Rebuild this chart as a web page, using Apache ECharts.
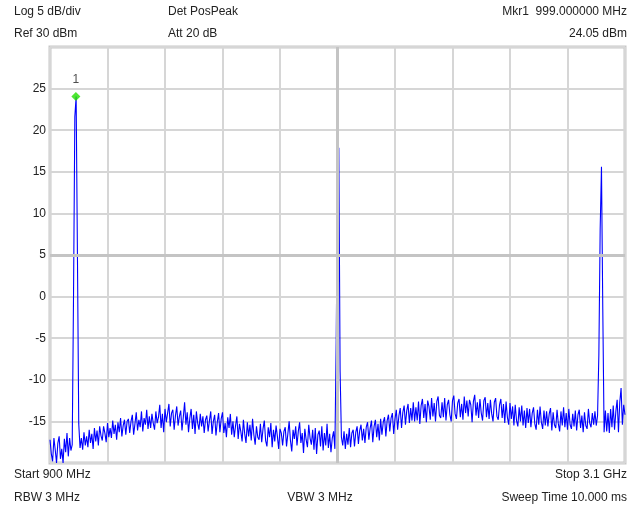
<!DOCTYPE html>
<html>
<head>
<meta charset="utf-8">
<script src="https://cdn.jsdelivr.net/npm/echarts@6/dist/echarts.min.js"></script>
<style>
html,body{margin:0;padding:0;background:#fff;}
#chart{width:630px;height:508px;}
</style>
</head>
<body>
<div id="chart"></div>
<script>
// Sweep definition (MHz)
var startMHz = 900;
var stopMHz = 3100;
var stepMHz = 5;

// Y axis (dBm)
var refLevel = 30;
var bottomLevel = -20;
var dbPerDiv = 5;

// Marker
var marker1 = [999, 24.05];

// Trace values in dBm, one per 5 MHz starting at 900 MHz (each row = 100 MHz)
var trace900 = [-17.2,-18.9,-19.8,-17.0,-18.4,-20.0,-17.6,-16.8,-19.5,-18.3,-20.0,-17.1,-18.7,-16.4,-19.2,-17.0,-18.5,-17.8,0.1,21.6];
var trace1000 = [24.05,4.9,-15.3,-18.2,-17.0,-18.4,-16.3,-17.9,-16.8,-18.1,-16.0,-17.6,-16.5,-18.3,-15.8,-17.4,-16.1,-17.9,-15.6,-16.7];
var trace1100 = [-17.3,-15.6,-16.4,-17.5,-15.2,-16.9,-15.8,-17.0,-14.9,-16.5,-15.4,-17.2,-15.1,-16.3,-14.6,-16.8,-15.5,-14.8,-16.6,-15.0];
var trace1200 = [-14.7,-16.4,-15.0,-14.2,-16.6,-15.3,-13.9,-16.1,-14.8,-15.7,-13.8,-16.2,-14.6,-15.4,-13.6,-15.9,-14.4,-15.8,-14.1,-15.2];
var trace1300 = [-16.0,-13.8,-15.2,-14.5,-13.0,-15.8,-14.1,-16.3,-13.5,-15.1,-14.9,-12.9,-15.6,-14.0,-13.6,-16.0,-14.3,-13.2,-15.5,-14.4];
var trace1400 = [-13.7,-16.1,-14.5,-12.7,-15.4,-13.9,-16.3,-14.6,-13.5,-15.9,-14.2,-16.5,-13.8,-15.2,-16.0,-14.1,-15.6,-14.4,-16.4,-14.8];
var trace1500 = [-14.3,-16.2,-14.9,-13.8,-16.5,-15.0,-14.2,-16.7,-15.1,-14.0,-16.3,-14.7,-13.9,-16.4,-15.2,-16.9,-14.5,-15.8,-14.1,-16.6];
var trace1600 = [-15.0,-16.9,-15.5,-14.4,-17.1,-15.3,-16.2,-17.4,-14.8,-16.5,-17.6,-15.1,-16.8,-15.4,-17.3,-14.7,-16.6,-17.8,-15.6,-16.9];
var trace1700 = [-17.2,-15.3,-17.5,-15.9,-14.9,-17.3,-18.0,-15.7,-16.9,-15.2,-18.1,-16.0,-17.4,-15.5,-16.8,-18.3,-15.9,-16.4,-17.9,-16.2];
var trace1800 = [-15.7,-18.0,-16.5,-15.0,-17.3,-18.6,-16.0,-17.1,-15.6,-17.9,-16.2,-15.1,-17.6,-16.4,-18.8,-15.9,-17.2,-18.1,-15.4,-17.0];
var trace1900 = [-17.8,-16.0,-18.4,-15.8,-18.9,-16.6,-16.1,-18.0,-15.6,-18.5,-16.4,-17.9,-15.3,-18.2,-16.5,-18.7,-17.0,-16.2,-18.3,-5.5];
var trace2000 = [13.0,17.9,-9.0,-16.9,-17.9,-16.2,-18.3,-16.5,-17.8,-15.8,-18.1,-16.4,-16.0,-18.0,-16.3,-15.6,-17.7,-16.1,-15.4,-17.3];
var trace2100 = [-15.9,-17.6,-15.7,-15.1,-17.2,-15.8,-14.9,-17.5,-15.6,-14.8,-16.9,-15.3,-17.3,-14.7,-16.6,-15.1,-14.5,-16.8,-14.9,-14.2];
var trace2200 = [-16.2,-14.6,-14.0,-16.5,-14.7,-13.6,-16.0,-14.3,-13.4,-15.8,-13.9,-13.1,-15.4,-13.7,-12.9,-15.2,-13.4,-14.9,-12.7,-15.0];
var trace2300 = [-13.3,-14.9,-12.6,-15.3,-13.1,-12.3,-14.6,-12.9,-15.1,-12.5,-13.2,-14.8,-12.2,-14.4,-12.8,-15.0,-12.6,-12.0,-14.3,-14.6];
var trace2400 = [-12.7,-14.5,-12.2,-14.9,-13.0,-12.4,-14.2,-15.0,-12.5,-11.9,-14.1,-14.7,-12.8,-12.3,-14.5,-12.9,-14.8,-12.0,-14.0,-12.5];
var trace2500 = [-14.4,-12.4,-13.0,-15.1,-12.6,-11.8,-14.3,-12.7,-14.6,-12.3,-14.0,-14.9,-12.5,-12.1,-14.5,-12.8,-14.7,-12.4,-14.1,-15.0];
var trace2600 = [-12.7,-12.2,-14.4,-14.8,-13.0,-12.3,-14.6,-12.9,-15.2,-12.6,-14.5,-15.4,-12.8,-14.7,-13.2,-15.5,-13.0,-14.9,-15.6,-13.3];
var trace2700 = [-15.0,-13.1,-15.5,-13.7,-15.8,-13.4,-15.2,-13.5,-15.7,-14.0,-13.3,-15.3,-16.0,-13.6,-15.4,-13.2,-15.1,-15.9,-13.7,-15.5];
var trace2800 = [-13.8,-15.6,-14.1,-13.4,-16.1,-13.9,-15.4,-15.8,-13.6,-15.3,-16.2,-13.8,-15.5,-13.3,-15.7,-14.0,-16.0,-13.5,-15.4,-15.9];
var trace2900 = [-14.1,-15.6,-13.7,-16.1,-14.2,-13.6,-15.8,-14.3,-16.3,-13.9,-15.5,-15.9,-13.5,-15.2,-15.7,-14.0,-15.4,-13.8,-15.5,-14.3];
var trace3000 = [-7.0,8.1,15.6,-1.5,-16.3,-13.7,-16.2,-14.0,-16.4,-13.5,-15.7,-13.1,-16.0,-13.8,-12.4,-16.3,-12.7,-11.0,-15.4,-13.0,-14.2];

var traceDbm = [].concat(trace900, trace1000, trace1100, trace1200, trace1300, trace1400,
  trace1500, trace1600, trace1700, trace1800, trace1900, trace2000, trace2100, trace2200,
  trace2300, trace2400, trace2500, trace2600, trace2700, trace2800, trace2900, trace3000);

var traceData = traceDbm.map(function (v, i) { return [startMHz + i * stepMHz, v]; });

var chart = echarts.init(document.getElementById('chart'), null, {renderer: 'canvas'});
var fontFam = '"Liberation Sans", Arial, sans-serif';
var txtColor = '#222';
function txt(x, y, s, align) {
  return {type: 'text', x: x, y: y, style: {text: s, fill: txtColor, font: '12px ' + fontFam, textAlign: align || 'left', textVerticalAlign: 'middle'}};
}

chart.setOption({
  animation: false,
  backgroundColor: '#fff',
  grid: {left: 50, right: 5, top: 47, bottom: 45, show: true, borderColor: '#c8c8c8', borderWidth: 3, backgroundColor: '#fff'},
  xAxis: {
    type: 'value', min: startMHz, max: stopMHz, interval: (stopMHz - startMHz) / 10,
    axisLine: {show: false}, axisTick: {show: false}, axisLabel: {show: false},
    splitLine: {show: true, lineStyle: {color: '#d6d6d6', width: 2}}
  },
  yAxis: {
    type: 'value', min: bottomLevel, max: refLevel, interval: dbPerDiv,
    axisLine: {show: false}, axisTick: {show: false},
    axisLabel: {
      margin: 4, color: txtColor, fontSize: 12, fontFamily: fontFam,
      formatter: function (v) { return (v === refLevel || v === bottomLevel) ? '' : String(v); }
    },
    splitLine: {show: true, lineStyle: {color: '#d6d6d6', width: 2}}
  },
  series: [
    {
      type: 'line', data: [], z: 1, silent: true,
      markLine: {
        silent: true, symbol: 'none', animation: false,
        label: {show: false},
        lineStyle: {color: '#c4c4c4', width: 3, type: 'solid'},
        data: [{xAxis: (startMHz + stopMHz) / 2}, {yAxis: (refLevel + bottomLevel) / 2}]
      }
    },
    {
      type: 'line', data: traceData, z: 3, showSymbol: false, symbol: 'none',
      lineStyle: {color: '#0000ff', width: 1.1}
    },
    {
      type: 'scatter', data: [marker1], z: 4, symbol: 'diamond', symbolSize: 9,
      itemStyle: {color: '#22e000'},
      label: {show: true, position: 'top', distance: 6, formatter: '1', color: '#222', fontSize: 12, fontFamily: fontFam}
    }
  ],
  graphic: [
    txt(14, 12, 'Log 5 dB/div'),
    txt(168, 12, 'Det PosPeak'),
    txt(627, 12, 'Mkr1  999.000000 MHz', 'right'),
    txt(14, 34, 'Ref 30 dBm'),
    txt(168, 34, 'Att 20 dB'),
    txt(627, 34, '24.05 dBm', 'right'),
    txt(14, 475, 'Start 900 MHz'),
    txt(627, 475, 'Stop 3.1 GHz', 'right'),
    txt(14, 498, 'RBW 3 MHz'),
    txt(320, 498, 'VBW 3 MHz', 'center'),
    txt(627, 498, 'Sweep Time 10.000 ms', 'right')
  ]
});
</script>
</body>
</html>
